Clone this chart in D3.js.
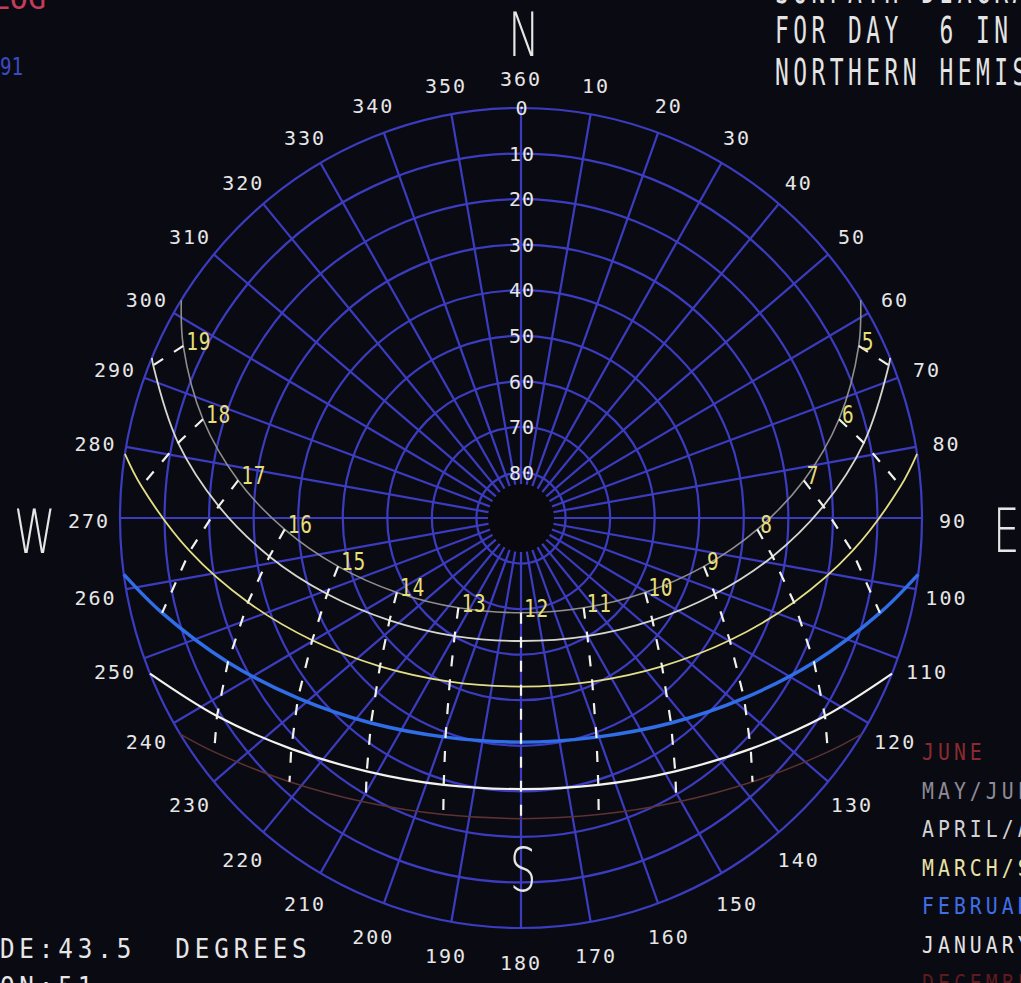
<!DOCTYPE html>
<html>
<head>
<meta charset="utf-8">
<script src="https://cdn.jsdelivr.net/npm/d3@7"></script>
<style>
html, body { margin: 0; padding: 0; background: #0a0a12; overflow: hidden; }
svg { display: block; }
text { white-space: pre; }
</style>
</head>
<body>
<script>
// sun positions: [hour, azimuth, altitude]
var june = [[4.4,57.9,0],[5,63.5,5.3],[6,73.1,15.4],[7,82.6,26.0],[8,92.7,36.9],[9,104.5,47.6],[10,120.4,57.7],[11,144.5,65.8],
    [12,180,69.2],[13,215.5,65.8],[14,239.6,57.7],[15,255.5,47.6],[16,267.3,36.9],[17,277.4,26.0],[18,286.9,15.4],[19,296.5,5.3],[19.6,302.1,0]];
var may = [[4.9,67.0,0],[5,67.9,0.9],[6,77.9,11.3],[7,87.8,22.1],[8,98.5,32.9],[9,111.0,43.4],[10,127.3,52.9],[11,150.1,60.1],
    [12,180,63.0],[13,209.9,60.1],[14,232.7,52.9],[15,249.0,43.4],[16,261.5,32.9],[17,272.2,22.1],[18,282.1,11.3],[19,292.1,0.9],[19.1,293.0,0]];
var april = [[5.6,81.0,0],[6,85.3,4.5],[7,95.6,15.3],[8,106.8,26.0],[9,119.8,36.0],[10,135.8,44.6],[11,156.0,50.7],
    [12,180,53.0],[13,204.0,50.7],[14,224.2,44.6],[15,240.2,36.0],[16,253.2,26.0],[17,264.4,15.3],[18,274.7,4.5],[18.4,279.0,0]];
var march = [[6.4,97.9,0],[7,104.5,6.8],[8,115.7,17.0],[9,128.3,26.2],[10,143.2,33.8],[11,160.6,39.0],
    [12,180,40.8],[13,199.4,39.0],[14,216.8,33.8],[15,231.7,26.2],[16,244.3,17.0],[17,255.5,6.8],[17.6,262.1,0]];
var february = [[7.1,112.3,0],[8,122.5,9.1],[9,134.5,17.7],[10,148.1,24.5],[11,163.5,28.9],
    [12,180,30.5],[13,196.5,28.9],[14,211.9,24.5],[15,225.5,17.7],[16,237.5,9.1],[16.9,247.7,0]];
var january = [[7.6,121.8,0],[8,126.7,4.1],[9,138.1,12.2],[10,150.8,18.5],[11,165.0,22.6],
    [12,180,24.0],[13,195.0,22.6],[14,209.2,18.5],[15,221.9,12.2],[16,233.3,4.1],[16.4,238.2,0]];

var paths = [june, may, april, march, february, january];
var pathColors = ["#8e8e8e", "#d6d6cf", "#e4de86", "#2f6ee6", "#f2f2ee", "#5c3232"];
var pathWidths = [1.6, 1.8, 1.8, 3.4, 2.2, 1.5];

var hours = [5,6,7,8,9,10,11,12,13,14,15,16,17,18,19];
var rings = [0,10,20,30,40,50,60,70,80];
var azTicks = d3.range(10, 361, 10);

var legendNames = ["JUNE", "MAY/JULY", "APRIL/AUGUST", "MARCH/SEPTEMBER", "FEBRUARY/OCTOBER", "JANUARY/NOVEMBER", "DECEMBER"];
var legendColors = ["#8a2a30", "#8e8a96", "#d2d2d6", "#e8e2a8", "#3f6fe6", "#e2e2e2", "#5e1a1e"];

var W = 1021, H = 983;
var cx = 521, cy = 518, rx = 401, ry = 410;

var svg = d3.select("body").append("svg")
    .attr("width", W)
    .attr("height", H);

svg.append("rect").attr("width", W).attr("height", H).attr("fill", "#0a0a12");

// altitude -> fraction of the horizon radius (equidistant)
var r = d3.scaleLinear().domain([90, 0]).range([0, 1]);
var xs = d3.scaleLinear().domain([-1, 1]).range([cx - rx, cx + rx]);
var ys = d3.scaleLinear().domain([-1, 1]).range([cy + ry, cy - ry]);

function proj(az, alt) {
    var k = r(alt), a = az * Math.PI / 180;
    return [xs(k * Math.sin(a)), ys(k * Math.cos(a))];
}

function label(g, x, y, str, o) {
    return g.append("text")
        .attr("transform", "translate(" + x + "," + y + ") scale(" + (o.sx || 1) + ",1)")
        .attr("text-anchor", o.anchor || "start")
        .attr("dy", o.dy || 0)
        .attr("font-family", o.font || "'DejaVu Sans Mono', monospace")
        .attr("font-weight", o.weight || "normal")
        .attr("font-size", o.size)
        .attr("letter-spacing", o.ls || 0)
        .attr("fill", o.color || "#e6e6e6")
        .text(str);
}

// grid
var grid = svg.append("g").attr("stroke", "#3c3cc0").attr("stroke-width", 2.2).attr("fill", "none");

grid.selectAll(".ring").data(rings).enter().append("ellipse")
    .attr("cx", cx).attr("cy", cy)
    .attr("rx", function (d) { return xs(r(d)) - cx; })
    .attr("ry", function (d) { return cy - ys(r(d)); });

grid.selectAll(".spoke").data(azTicks).enter().append("line")
    .attr("x1", function (d) { return proj(d, 90)[0]; })
    .attr("y1", function (d) { return proj(d, 90)[1]; })
    .attr("x2", function (d) { return proj(d, 0)[0]; })
    .attr("y2", function (d) { return proj(d, 0)[1]; });

svg.append("ellipse").attr("cx", cx).attr("cy", cy).attr("rx", 33).attr("ry", 34).attr("fill", "#08080e");

// sun paths
var line = d3.line()
    .x(function (d) { return proj(d[1], d[2])[0]; })
    .y(function (d) { return proj(d[1], d[2])[1]; })
    .curve(d3.curveCatmullRom);

svg.append("g").selectAll("path").data(paths).enter().append("path")
    .attr("d", line)
    .attr("fill", "none")
    .attr("stroke", function (d, i) { return pathColors[i]; })
    .attr("stroke-width", function (d, i) { return pathWidths[i]; });

// hour lines, dashed, same hour across months
var hourLines = hours.map(function (h) {
    return paths.map(function (p) {
        return p.filter(function (d) { return d[0] === h; })[0];
    }).filter(function (d) { return d; });
});

svg.append("g").selectAll("path").data(hourLines).enter().append("path")
    .attr("d", d3.line()
        .x(function (d) { return proj(d[1], d[2])[0]; })
        .y(function (d) { return proj(d[1], d[2])[1]; }))
    .attr("fill", "none")
    .attr("stroke", "#f0f0ec")
    .attr("stroke-width", 2.2)
    .attr("stroke-dasharray", "11,13");

// hour labels along the june path
var hl = svg.append("g");
hours.forEach(function (h) {
    var d = june.filter(function (p) { return p[0] === h; })[0];
    var p = proj(d[1], d[2]);
    label(hl, p[0] + 3, p[1] + 4, String(h), { size: 25, sx: 0.78, ls: 1, color: "#e6de7a" });
});

// azimuth labels
var al = svg.append("g");
azTicks.forEach(function (a) {
    var t = a * Math.PI / 180;
    label(al, cx + 432 * Math.sin(t), cy + 3 - 442 * Math.cos(t), String(a),
        { size: 20, ls: 2, anchor: "middle", dy: "0.36em" });
});

// altitude labels on the north line
rings.forEach(function (a) {
    label(al, cx + 1, ys(r(a)), String(a), { size: 20, ls: 1, anchor: "middle", dy: "0.36em" });
});

// compass letters
var big = { size: 60, font: "'DejaVu Sans', sans-serif", weight: 200, sx: 0.7 };
label(svg, 524, 56, "N", Object.assign({}, big, { anchor: "middle" }));
label(svg, 993, 552, "E", big);
label(svg, 14, 553, "W", big);
label(svg, 523, 891, "S", Object.assign({}, big, { anchor: "middle" }));

// legend
var lg = svg.append("g");
legendNames.forEach(function (n, i) {
    label(lg, 922, 760 + i * 38.5, n, { size: 23, sx: 0.86, ls: 4.7, color: legendColors[i] });
});

// header / footer text
var hdr = { size: 37, sx: 0.62, ls: 7.2, color: "#e4e4e4" };
label(svg, 775, 3, "SUNPATH DIAGRAM", hdr);
label(svg, 775, 43, "FOR DAY  6 IN EACH MONTH", hdr);
label(svg, 775, 85, "NORTHERN HEMISPHERE", hdr);

var ftr = { size: 27, sx: 0.9, ls: 5.4, color: "#e6e6e6" };
label(svg, -117, 958, "LATITUDE:43.5  DEGREES", ftr);
label(svg, -117, 996, "LOCATION:51", ftr);

label(svg, 46, 9, "SOLAR LOG", { size: 30, anchor: "end", color: "#c43c5c" });
label(svg, 23, 75, "1991", { size: 24, anchor: "end", sx: 0.8, color: "#3a4cc4" });
</script>
</body>
</html>
